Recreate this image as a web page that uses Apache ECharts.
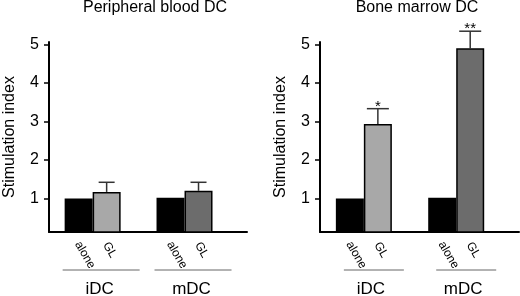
<!DOCTYPE html>
<html>
	<head>
		<meta charset="UTF-8">
		<title></title>
		<script src="https://cdn.jsdelivr.net/npm/echarts@6/dist/echarts.min.js"></script>
		<style>
			html, body { margin: 0; padding: 0; background: #fff; }
		</style>
	</head>
	<body>
		<div id="chart" style="width: 520px;height: 296px;"></div>
		<script type="text/javascript">
			var groups = ['iDC', 'mDC'];
			var groupPos = [1, 2];
			var ticks = [1, 2, 3, 4, 5];
			// peripheral blood DC
			var pbAlone = [1.0, 1.02];
			var pbGL = [1.17, 1.2];
			var pbErr = [0.25, 0.22];
			var pbStars = ['', ''];
			// bone marrow DC
			var bmAlone = [1.0, 1.02];
			var bmGL = [2.93, 4.9];
			var bmErr = [0.4, 0.44];
			var bmStars = ['*', '**'];

			var glColors = ['#a8a8a8', '#6c6c6c'];
			var font = '"Liberation Sans", Arial, sans-serif';
			var yMin = 0.13, yMax = 5.06;

			var myChart = echarts.init(document.getElementById('chart'));

			function yAxis(idx) {
				return {
					type: 'value', gridIndex: idx, min: yMin, max: yMax,
					name: 'Stimulation index', nameLocation: 'middle', nameGap: 31,
					nameTextStyle: {fontSize: 16, color: '#000', fontFamily: font},
					axisLine: {show: true, lineStyle: {color: '#000', width: 2}},
					axisTick: {show: true, customValues: ticks, length: 5, lineStyle: {color: '#000', width: 1.5}},
					axisLabel: {customValues: ticks, margin: 10, fontSize: 16, color: '#000', fontFamily: font},
					splitLine: {show: false}
				};
			}
			function xAxis(idx) {
				return {
					type: 'value', gridIndex: idx, min: 0.525, max: 2.68,
					axisLine: {show: true, onZero: false, lineStyle: {color: '#000', width: 2}},
					axisTick: {show: false}, axisLabel: {show: false}, splitLine: {show: false}
				};
			}

			var barLabel = {
				show: true, position: 'bottom', distance: 12, offset: [-2, 0],
				rotate: -60, align: 'left', verticalAlign: 'middle',
				formatter: '{a}', fontSize: 12, color: '#000', fontFamily: font
			};

			function panel(idx, alone, gl, err, stars, capW, ulFrom, ulTo) {
				return [
					{
						type: 'bar', name: 'alone', xAxisIndex: idx, yAxisIndex: idx,
						barWidth: 28, barGap: '0%',
						data: groupPos.map(function (x, i) { return [x, alone[i]]; }),
						itemStyle: {color: '#000'},
						label: barLabel
					},
					{
						type: 'bar', name: 'GL', xAxisIndex: idx, yAxisIndex: idx,
						barWidth: 28, barGap: '0%',
						data: groupPos.map(function (x, i) {
							return {value: [x, gl[i]], itemStyle: {color: glColors[i]}};
						}),
						itemStyle: {borderColor: '#000', borderWidth: 1.5},
						label: barLabel
					},
					{
						// error bars (upper only) + significance marks
						type: 'custom', xAxisIndex: idx, yAxisIndex: idx,
						data: groupPos.map(function (x, i) { return [x, gl[i], gl[i] + err[i], i]; }),
						renderItem: function (params, api) {
							var base = api.coord([api.value(0), api.value(1)]);
							var top = api.coord([api.value(0), api.value(2)]);
							var cx = base[0] + 14;
							return {
								type: 'group', children: [
									{type: 'line', shape: {x1: cx, y1: base[1], x2: cx, y2: top[1]}, style: {stroke: '#333', lineWidth: 1.5}},
									{type: 'line', shape: {x1: cx - capW / 2, y1: top[1], x2: cx + capW / 2, y2: top[1]}, style: {stroke: '#333', lineWidth: 1.5}},
									{type: 'text', style: {text: stars[api.value(3)], x: cx, y: top[1] - 2, align: 'center', verticalAlign: 'middle', font: '15px ' + font, fill: '#000'}}
								]
							};
						}
					},
					{
						// group underline + group name
						type: 'custom', xAxisIndex: idx, yAxisIndex: idx,
						data: groupPos.map(function (x, i) { return [x, i]; }),
						renderItem: function (params, api) {
							var p = api.coord([api.value(0), yMin]);
							return {
								type: 'group', children: [
									{type: 'line', shape: {x1: p[0] + ulFrom, y1: p[1] + 38, x2: p[0] + ulTo, y2: p[1] + 38}, style: {stroke: '#666', lineWidth: 1}},
									{type: 'text', style: {text: groups[api.value(1)], x: p[0] + 7, y: p[1] + 57, align: 'center', verticalAlign: 'middle', font: '17px ' + font, fill: '#000'}}
								]
							};
						}
					}
				];
			}

			var option = {
				animation: false,
				title: [
					{text: 'Peripheral blood DC', left: 155, top: 0, padding: 0, textAlign: 'center',
						textStyle: {fontSize: 16, fontWeight: 'normal', color: '#000', fontFamily: font}},
					{text: 'Bone marrow DC', left: 417, top: 0, padding: 0, textAlign: 'center',
						textStyle: {fontSize: 16, fontWeight: 'normal', color: '#000', fontFamily: font}}
				],
				grid: [
					{left: 49, right: 273, top: 42, bottom: 64},
					{left: 320, right: 1, top: 42, bottom: 64}
				],
				xAxis: [xAxis(0), xAxis(1)],
				yAxis: [yAxis(0), yAxis(1)],
				series: panel(0, pbAlone, pbGL, pbErr, pbStars, 16, -30, 47)
					.concat(panel(1, bmAlone, bmGL, bmErr, bmStars, 22, -20, 40))
			};
			myChart.setOption(option);
		</script>
	</body>
</html>
